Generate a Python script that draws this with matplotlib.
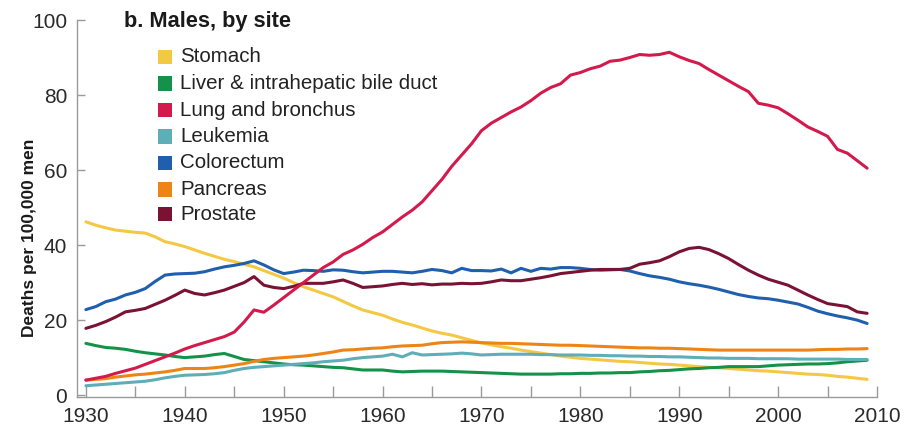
import matplotlib
matplotlib.use("Agg")
import matplotlib.pyplot as plt
from matplotlib.patches import Rectangle
from matplotlib.ticker import MultipleLocator
from matplotlib import font_manager

plt.rcParams['font.family'] = ['Liberation Sans', 'DejaVu Sans']

years = list(range(1930, 2010))

stomach = [46.2, 45.3, 44.6, 44, 43.7, 43.4, 43.2, 42.2, 40.9, 40.3,
           39.6, 38.7, 37.8, 37, 36.2, 35.6, 34.9, 34.2, 33.2, 32.2,
           31.2, 30, 28.9, 28, 27.1, 26.2, 25, 23.8, 22.7, 22,
           21.3, 20.3, 19.4, 18.7, 17.9, 17.1, 16.5, 16, 15.3, 14.6,
           13.9, 13.4, 12.9, 12.5, 12, 11.6, 11.2, 10.8, 10.4, 10.1,
           9.8, 9.6, 9.4, 9.2, 9, 8.9, 8.7, 8.5, 8.3, 8.2,
           8, 7.8, 7.6, 7.4, 7.3, 7.1, 6.9, 6.7, 6.5, 6.4,
           6.2, 6, 5.8, 5.6, 5.5, 5.3, 5, 4.8, 4.5, 4.2]

liver = [13.8, 13.2, 12.7, 12.5, 12.2, 11.7, 11.3, 11, 10.7, 10.3,
         10, 10.2, 10.4, 10.8, 11.1, 10.3, 9.5, 9.2, 8.9, 8.6,
         8.3, 8.1, 8, 7.8, 7.6, 7.4, 7.3, 7, 6.7, 6.7,
         6.7, 6.4, 6.2, 6.3, 6.4, 6.4, 6.4, 6.3, 6.2, 6.1,
         6, 5.9, 5.8, 5.7, 5.6, 5.6, 5.6, 5.6, 5.7, 5.7,
         5.8, 5.8, 5.9, 5.9, 6, 6, 6.2, 6.3, 6.5, 6.6,
         6.8, 7, 7.1, 7.3, 7.4, 7.6, 7.6, 7.6, 7.6, 7.8,
         8, 8.1, 8.2, 8.3, 8.3, 8.4, 8.6, 8.9, 9.1, 9.3]

lung = [4, 4.5, 5, 5.8, 6.5, 7.2, 8.2, 9.2, 10.2, 11.2,
        12.3, 13.2, 14.0, 14.8, 15.6, 16.8, 19.5, 22.7, 22.1, 24,
        26, 28, 30, 32, 34, 35.5, 37.5, 38.7, 40.2, 42,
        43.5, 45.5, 47.5, 49.3, 51.5, 54.5, 57.5, 61, 64, 67,
        70.5, 72.5, 74, 75.5, 76.8, 78.5, 80.5, 82, 83, 85.3,
        86, 87, 87.7, 89, 89.3, 90, 90.8, 90.6, 90.8, 91.4,
        90.2, 89.2, 88.4, 86.8, 85.3, 83.8, 82.3, 80.9, 77.8, 77.3,
        76.6, 75, 73.3, 71.5, 70.3, 69, 65.5, 64.5, 62.5, 60.5]

leukemia = [2.5, 2.7, 2.9, 3.1, 3.3, 3.5, 3.7, 4.1, 4.6, 5,
            5.3, 5.4, 5.5, 5.7, 6, 6.6, 7.1, 7.4, 7.6, 7.8,
            8, 8.2, 8.4, 8.6, 8.9, 9.1, 9.3, 9.7, 10, 10.2,
            10.4, 10.9, 10.2, 11.3, 10.7, 10.8, 10.9, 11, 11.2, 11,
            10.7, 10.8, 10.9, 10.9, 10.9, 10.9, 10.8, 10.8, 10.7, 10.7,
            10.7, 10.6, 10.6, 10.5, 10.5, 10.4, 10.4, 10.3, 10.3, 10.2,
            10.2, 10.1, 10, 9.9, 9.9, 9.8, 9.8, 9.8, 9.7, 9.7,
            9.7, 9.7, 9.6, 9.6, 9.6, 9.6, 9.6, 9.5, 9.5, 9.5]

colorectum = [22.8, 23.6, 24.9, 25.6, 26.7, 27.4, 28.4, 30.3, 32, 32.3,
              32.4, 32.5, 32.9, 33.6, 34.2, 34.6, 35.1, 35.8, 34.7, 33.4,
              32.4, 32.8, 33.3, 33.2, 33, 33.4, 33.3, 32.9, 32.6, 32.8,
              33, 33, 32.8, 32.6, 33, 33.5, 33.2, 32.6, 33.8, 33.2,
              33.2, 33.1, 33.6, 32.6, 33.8, 33, 33.8, 33.6, 34, 34,
              33.8, 33.5, 33.3, 33.4, 33.5, 33.1, 32.4, 31.8, 31.4, 30.9,
              30.2, 29.7, 29.3, 28.8, 28.2, 27.5, 26.8, 26.3, 25.9, 25.7,
              25.3, 24.8, 24.3, 23.4, 22.4, 21.7, 21.1, 20.6, 20, 19.1]

pancreas = [4, 4.2, 4.4, 4.8, 5.1, 5.4, 5.6, 5.9, 6.2, 6.6,
            7.1, 7.1, 7.1, 7.3, 7.6, 8, 8.4, 9, 9.5, 9.8,
            10, 10.2, 10.4, 10.7, 11.1, 11.5, 12, 12.1, 12.3, 12.5,
            12.6, 12.9, 13.1, 13.2, 13.3, 13.7, 14, 14.1, 14.2, 14.1,
            14, 13.9, 13.8, 13.8, 13.7, 13.6, 13.5, 13.4, 13.3, 13.3,
            13.2, 13.1, 13, 12.9, 12.8, 12.7, 12.6, 12.6, 12.5, 12.5,
            12.4, 12.3, 12.2, 12.1, 12, 12, 12, 12, 12, 12,
            12, 12, 12, 12, 12.1, 12.2, 12.2, 12.3, 12.3, 12.4]

prostate = [17.8, 18.6, 19.6, 20.8, 22.2, 22.6, 23.1, 24.2, 25.3, 26.6,
            28, 27.1, 26.7, 27.3, 28, 29, 30, 31.6, 29.3, 28.7,
            28.4, 29, 29.8, 29.8, 29.8, 30.2, 30.7, 29.8, 28.7, 28.9,
            29.1, 29.5, 29.8, 29.5, 29.7, 29.4, 29.6, 29.6, 29.8, 29.7,
            29.8, 30.2, 30.7, 30.5, 30.5, 30.9, 31.3, 31.8, 32.4, 32.7,
            33, 33.3, 33.5, 33.5, 33.5, 33.8, 34.9, 35.3, 35.8, 36.9,
            38.2, 39.1, 39.4, 38.8, 37.7, 36.4, 34.8, 33.3, 32, 30.9,
            30.1, 29.3, 28, 26.7, 25.5, 24.4, 24, 23.6, 22.2, 21.8]

labels = ["Stomach", "Liver & intrahepatic bile duct", "Lung and bronchus",
          "Leukemia", "Colorectum", "Pancreas", "Prostate"]
series = [stomach, liver, lung, leukemia, colorectum, pancreas, prostate]
colors = ["#f3c842", "#15924a", "#d31a4c", "#5eaeb8", "#1f5fae", "#ee8416", "#7a1234"]

# Narrow face for the axis title, falling back to the regular one
installed = {f.name for f in font_manager.fontManager.ttflist}
narrow = "Liberation Sans Narrow" if "Liberation Sans Narrow" in installed else "Liberation Sans"
ylabel_size = 13.5 if narrow == "Liberation Sans Narrow" else 12.5

W, H = 910, 424
fig = plt.figure(figsize=(W / 100, H / 100), dpi=100)
ax = fig.add_axes([77 / W, 1 - 397 / H, 800 / W, 377 / H])

draw_order = [0, 1, 3, 5, 4, 6, 2]
for i in draw_order:
    ax.plot(years, series[i], color=colors[i], lw=2.2, solid_joinstyle='round',
            solid_capstyle='round', zorder=3)

ax.set_xlim(1929.1, 2010)
ax.set_ylim(-0.5, 100)
ax.xaxis.set_major_locator(MultipleLocator(10))
ax.xaxis.set_minor_locator(MultipleLocator(5))
ax.yaxis.set_major_locator(MultipleLocator(20))

for s in ["top", "right"]:
    ax.spines[s].set_visible(False)
for s in ["left", "bottom"]:
    ax.spines[s].set_color("#9a9a9a")
    ax.spines[s].set_linewidth(1.0)

ax.tick_params(axis="both", which="both", direction="in", color="#9a9a9a",
               labelcolor="#2a2a2a", labelsize=15)
ax.tick_params(axis="x", which="major", length=8, width=1.0, pad=7)
ax.tick_params(axis="x", which="minor", length=8, width=1.0)
ax.tick_params(axis="y", which="major", length=6, width=1.0, pad=7)

ax.set_ylabel("Deaths per 100,000 men", fontsize=ylabel_size, fontweight="bold",
              color="#1a1a1a", family=[narrow, "DejaVu Sans"])
ax.yaxis.set_label_coords((37 - 77) / 800, (397 - 238) / 377)

fig.text(124 / W, 1 - 22 / H, "b. Males, by site", fontsize=15.7, fontweight="bold",
         color="#1a1a1a", ha="left", va="center")

row_y = [57, 83.5, 110, 136.5, 163, 189.5, 214]
for lab, col, yc in zip(labels, colors, row_y):
    fig.patches.append(Rectangle((158 / W, 1 - (yc + 7) / H), 14 / W, 14 / H,
                                 transform=fig.transFigure, facecolor=col,
                                 edgecolor="none"))
    fig.text(180 / W, 1 - yc / H, lab, fontsize=14.8, color="#222222",
             ha="left", va="center")

fig.savefig("out.png", dpi=100)
